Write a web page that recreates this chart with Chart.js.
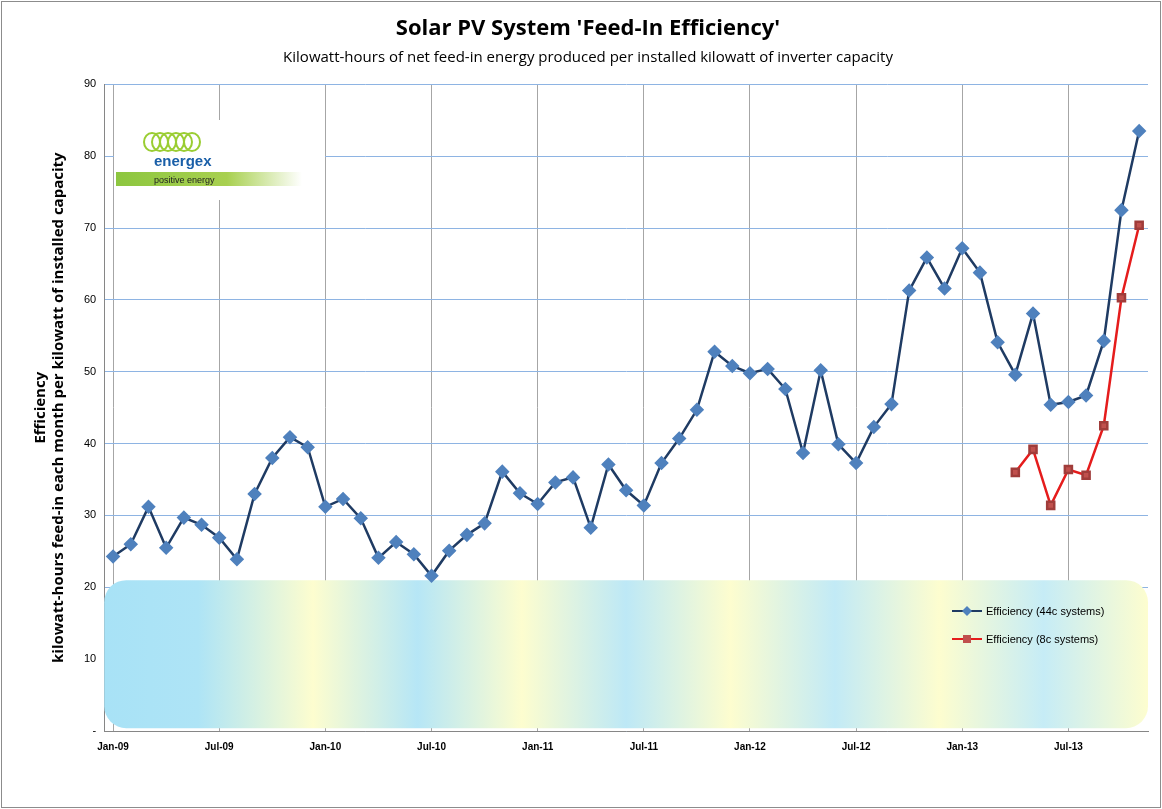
<!DOCTYPE html>
<html><head><meta charset="utf-8">
<script src="https://cdn.jsdelivr.net/npm/chart.js@4.4.0/dist/chart.umd.min.js"></script>
<style>
body{margin:0;background:#fff;}
#wrap{position:absolute;left:1px;top:1px;width:1158px;height:805px;border:1px solid #8c8c8c;}
</style></head><body>
<div id="wrap"><canvas id="myChart" width="1158" height="805"></canvas></div>
<script>
var monthNames = ["Jan","Feb","Mar","Apr","May","Jun","Jul","Aug","Sep","Oct","Nov","Dec"];
var xValues = [];
for (var y = 9; y <= 13; y++) {
  for (var m = 0; m < 12; m++) {
    if (y == 13 && m > 10) break;
    xValues.push(monthNames[m] + "-" + (y < 10 ? "0" + y : y));
  }
}
var eff44 = [24.3,26.0,31.2,25.5,29.7,28.7,26.9,23.9,33.0,38.0,40.9,39.5,
  31.2,32.3,29.6,24.1,26.3,24.6,21.6,25.1,27.3,28.9,36.1,33.1,
  31.6,34.6,35.3,28.3,37.1,33.5,31.4,37.3,40.7,44.7,52.8,50.8,
  49.8,50.4,47.6,38.7,50.2,39.9,37.3,42.3,45.5,61.3,65.9,61.6,
  67.2,63.8,54.1,49.6,58.1,45.4,45.8,46.7,54.3,72.5,83.5];
var eff8 = [];
for (var i = 0; i < 51; i++) eff8.push(null);
eff8 = eff8.concat([36.0,39.2,31.4,36.4,35.6,42.5,60.3,70.4]);
var seriesNames = ["Efficiency (44c systems)", "Efficiency (8c systems)"];

var decor = {
  id: "decor",
  beforeDatasetsDraw: function(chart) {
    var c = chart.ctx, a = chart.chartArea, ys = chart.scales.y;
    var top = ys.getPixelForValue(21), bot = ys.getPixelForValue(0.4);
    var g = c.createLinearGradient(a.left, 0, a.right, 0);
    var stops = [[0,"#a8e2f6"],[0.09,"#aee4f6"],[0.2,"#fdfdcf"],[0.3,"#b6e6f6"],[0.4,"#fdfdcf"],
      [0.5,"#bde8f6"],[0.6,"#fdfdcf"],[0.7,"#c2eaf6"],[0.8,"#fdfdcf"],[0.9,"#c6ecf6"],[1,"#fdfdcf"]];
    stops.forEach(function(s){ g.addColorStop(s[0], s[1]); });
    c.save();
    c.fillStyle = g;
    c.beginPath();
    c.roundRect(a.left, top, a.right - a.left, bot - top, 22);
    c.fill();
    c.restore();
  },
  afterDraw: function(chart) {
    var c = chart.ctx;
    c.save();
    // logo
    c.fillStyle = "#fff";
    c.fillRect(112, 118, 211, 80);
    c.strokeStyle = "#9acd32"; c.lineWidth = 2;
    for (var k = 0; k < 6; k++) {
      c.beginPath(); c.ellipse(150 + k*8, 140, 8, 9, 0, 0, Math.PI*2); c.stroke();
    }
    c.fillStyle = "#1a5fa8";
    c.font = "bold 15px 'Liberation Sans'";
    c.fillText("energex", 152, 164);
    var lg = c.createLinearGradient(112, 0, 300, 0);
    lg.addColorStop(0, "#8cc63f"); lg.addColorStop(0.6, "#a8d050"); lg.addColorStop(1, "#ffffff");
    c.fillStyle = lg; c.fillRect(114, 170, 190, 14);
    c.fillStyle = "#222"; c.font = "9px 'Liberation Sans'";
    c.fillText("positive energy", 152, 181);
    // legend
    var items = [["#1f3b63","#4f81bd","diamond"],["#e51c1c","#c0504d","square"]];
    c.font = "11px 'Liberation Sans'";
    items.forEach(function(it, i){
      var x = 950, y = 609 + i*28;
      c.strokeStyle = it[0]; c.lineWidth = 2;
      c.beginPath(); c.moveTo(x, y); c.lineTo(x+30, y); c.stroke();
      c.fillStyle = it[1];
      c.beginPath();
      if (it[2] == "diamond") { c.moveTo(x+15,y-5); c.lineTo(x+20,y); c.lineTo(x+15,y+5); c.lineTo(x+10,y); }
      else c.rect(x+11, y-4, 8, 8);
      c.fill();
      c.fillStyle = "#000";
      c.fillText(seriesNames[i], x+34, y+4);
    });
    c.restore();
  }
};

new Chart("myChart", {
  type: "line",
  data: {
    labels: xValues,
    datasets: [{
      label: seriesNames[0], data: eff44,
      borderColor: "#1f3b63", borderWidth: 2.5,
      pointStyle: "rectRot", pointRadius: 5.5, pointBackgroundColor: "#4f81bd",
      pointBorderColor: "#4f81bd", tension: 0
    }, {
      label: seriesNames[1], data: eff8,
      borderColor: "#e51c1c", borderWidth: 2.5,
      pointStyle: "rect", pointRadius: 5, pointBackgroundColor: "#c0504d",
      pointBorderColor: "#a03c3a", tension: 0
    }]
  },
  options: {
    responsive: false, animation: false,
    layout: { padding: { left: 26, right: 12, top: 8, bottom: 44 } },
    plugins: {
      legend: { display: false },
      title: { display: true, text: "Solar PV System 'Feed-In Efficiency'", color: "#000",
        font: { family: "'Open Sans'", size: 22, weight: "bold" }, padding: { top: 6, bottom: 6 } },
      subtitle: { display: true, text: "Kilowatt-hours of net feed-in energy produced per installed kilowatt of inverter capacity",
        color: "#000", font: { family: "'Open Sans'", size: 15 }, padding: { bottom: 18 } }
    },
    scales: {
      x: {
        offset: true,
        grid: { color: function(ctx){ return ctx.index % 6 == 0 ? "#a6a6a6" : "rgba(0,0,0,0)"; }, drawTicks: false },
        border: { color: "#868686" },
        ticks: { autoSkip: false, maxRotation: 0, color: "#000", padding: 10,
          font: { family: "'Liberation Sans'", size: 10, weight: "bold" },
          callback: function(v, i){ return i % 6 == 0 ? xValues[i] : ""; } }
      },
      y: {
        min: 0, max: 90,
        grid: { color: "#8eb4e3", drawTicks: false },
        border: { color: "#868686" },
        ticks: { stepSize: 10, color: "#000", padding: 8, font: { family: "'Liberation Sans'", size: 11 },
          callback: function(v){ return v == 0 ? "-" : v; } },
        title: { display: true, text: ["Efficiency","kilowatt-hours feed-in each month per kilowatt of installed capacity"],
          color: "#000", font: { family: "'Open Sans'", size: 15, weight: "bold" }, padding: { bottom: 8 } }
      }
    }
  },
  plugins: [decor]
});
</script>
</body></html>
